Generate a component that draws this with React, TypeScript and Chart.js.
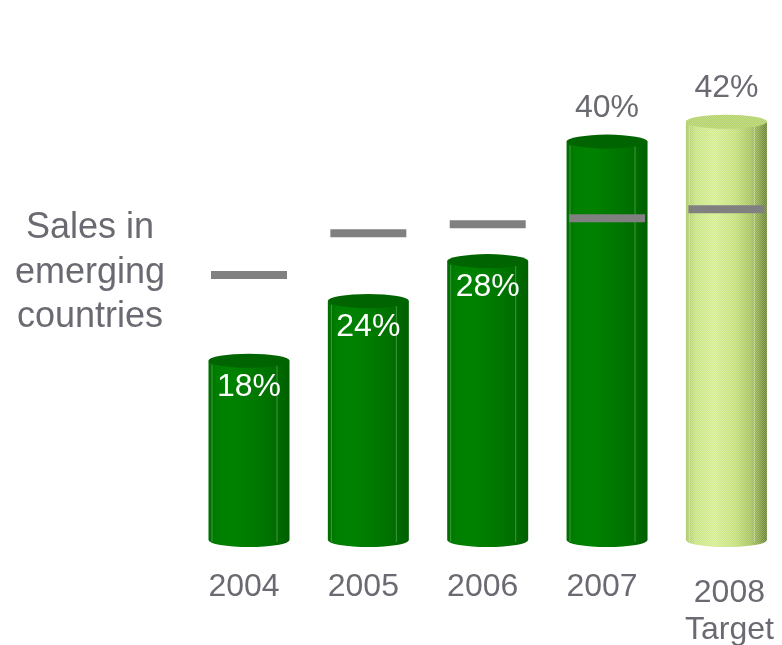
import React, { useEffect, useRef } from "react";
import { Chart, registerables } from "chart.js";

Chart.register(...registerables);

const categories = ["2004", "2005", "2006", "2007", "2008"];
const categoryLines = [["2004"], ["2005"], ["2006"], ["2007"], ["2008", "Target"]];
const salesShare = [18, 24, 28, 40, 42];
const markerValues = [25.9, 30.1, 31.0, 31.6, 32.5];
const valueLabels = ["18%", "24%", "28%", "40%", "42%"];
const labelInside = [true, true, true, false, false];
const isTarget = [false, false, false, false, true];
const sideTitle = ["Sales in", "emerging", "countries"];

const TEXT_GRAY = "#6a6a72";
const FONT = "Liberation Sans, Arial, sans-serif";
const BAR_DATASET = 1;

function makeChecker(ctx: CanvasRenderingContext2D) {
  const c = document.createElement("canvas");
  c.width = 2;
  c.height = 2;
  const g = c.getContext("2d")!;
  g.fillStyle = "rgba(255,255,255,0.22)";
  g.fillRect(0, 0, 1, 1);
  g.fillRect(1, 1, 1, 1);
  return ctx.createPattern(c, "repeat");
}

const cylinderPlugin = {
  id: "cylinders",
  beforeDatasetsDraw(chart: any) {
    const ctx: CanvasRenderingContext2D = chart.ctx;
    const meta = chart.getDatasetMeta(BAR_DATASET);
    meta.data.forEach((el: any, i: number) => {
      const { x, y, base, width } = el.getProps(["x", "y", "base", "width"], true);
      if (![x, y, base, width].every((v) => Number.isFinite(v))) return;
      const rx = width / 2;
      const ry = 7;
      const left = x - rx;
      const right = x + rx;
      const topC = y + ry;
      const botC = base + ry;
      const grad = ctx.createLinearGradient(left, 0, right, 0);
      if (isTarget[i]) {
        grad.addColorStop(0, "#a9c862");
        grad.addColorStop(0.12, "#c8e484");
        grad.addColorStop(0.35, "#d6ee90");
        grad.addColorStop(0.6, "#c6e07c");
        grad.addColorStop(0.8, "#a8c45e");
        grad.addColorStop(0.9, "#8aa648");
        grad.addColorStop(1, "#667f30");
      } else {
        grad.addColorStop(0, "#006c00");
        grad.addColorStop(0.1, "#007e00");
        grad.addColorStop(0.3, "#008200");
        grad.addColorStop(0.6, "#007800");
        grad.addColorStop(0.85, "#006c00");
        grad.addColorStop(1, "#005e00");
      }
      ctx.save();
      ctx.beginPath();
      ctx.moveTo(left, topC);
      ctx.lineTo(left, botC);
      ctx.ellipse(x, botC, rx, ry, 0, Math.PI, 0, true);
      ctx.lineTo(right, topC);
      ctx.closePath();
      ctx.fillStyle = grad;
      ctx.fill();
      if (isTarget[i]) {
        const pat = makeChecker(ctx);
        if (pat) {
          ctx.fillStyle = pat;
          ctx.fill();
        }
      }
      ctx.strokeStyle = isTarget[i] ? "rgba(255,255,255,0.35)" : "rgba(180,230,180,0.35)";
      ctx.lineWidth = 1;
      ctx.beginPath();
      ctx.moveTo(left + 3.5, topC + 4);
      ctx.lineTo(left + 3.5, botC + 2);
      ctx.moveTo(right - 12.5, topC + 4);
      ctx.lineTo(right - 12.5, botC + 2);
      ctx.stroke();
      ctx.beginPath();
      ctx.ellipse(x, topC, rx, ry, 0, 0, Math.PI * 2);
      ctx.fillStyle = isTarget[i] ? "#b4d26a" : "#006400";
      ctx.fill();
      if (isTarget[i]) {
        const pat = makeChecker(ctx);
        if (pat) {
          ctx.fillStyle = pat;
          ctx.fill();
        }
      }
      ctx.restore();
    });
  },
  afterDatasetsDraw(chart: any) {
    const ctx: CanvasRenderingContext2D = chart.ctx;
    const meta = chart.getDatasetMeta(BAR_DATASET);
    ctx.save();
    ctx.textAlign = "center";
    ctx.textBaseline = "alphabetic";
    ctx.font = `32px ${FONT}`;
    meta.data.forEach((el: any, i: number) => {
      const { x, y } = el.getProps(["x", "y"], true);
      if (labelInside[i]) {
        ctx.fillStyle = "#ffffff";
        ctx.fillText(valueLabels[i], x, y + 42);
      } else {
        ctx.fillStyle = TEXT_GRAY;
        ctx.fillText(valueLabels[i], x, y - 18);
      }
      ctx.fillStyle = TEXT_GRAY;
      const lines = categoryLines[i];
      const baseY = chart.chartArea.bottom + (lines.length > 1 ? 69 : 63);
      lines.forEach((ln, k) => {
        ctx.fillText(ln, x + (lines.length > 1 ? 3 : -5), baseY + k * 37);
      });
    });
    ctx.font = `36px ${FONT}`;
    ctx.fillStyle = TEXT_GRAY;
    sideTitle.forEach((ln, k) => {
      ctx.fillText(ln, 90, 238 + k * 44.5);
    });
    ctx.restore();
  },
};

export default function App() {
  const ref = useRef<HTMLCanvasElement>(null);
  useEffect(() => {
    if (!ref.current) return;
    const chart = new Chart(ref.current, {
      type: "bar",
      data: {
        labels: categories,
        datasets: [
          {
            type: "line",
            label: "Benchmark",
            data: markerValues,
            showLine: false,
            pointStyle: "line",
            pointRadius: 38,
            pointHoverRadius: 38,
            pointBorderWidth: 8,
            pointHoverBorderWidth: 8,
            pointBorderColor: "#808080",
            pointBackgroundColor: "#808080",
            clip: false,
            order: 0,
          } as any,
          {
            type: "bar",
            label: "Sales in emerging countries",
            data: salesShare,
            backgroundColor: "rgba(0,0,0,0)",
            borderWidth: 0,
            barThickness: 81,
            order: 1,
          },
        ],
      },
      options: {
        animation: false,
        responsive: true,
        maintainAspectRatio: false,
        events: [],
        layout: { autoPadding: false, padding: { left: 249, right: 55.6, top: 35, bottom: 112 } },
        plugins: { legend: { display: false }, tooltip: { enabled: false } },
        scales: {
          x: { type: "category", offset: false, display: false },
          y: { min: 0, max: 50, display: false },
        },
      },
      plugins: [cylinderPlugin],
    });
    return () => chart.destroy();
  }, []);
  return (
    <div style={{ position: "fixed", left: 0, top: 0, width: 782, height: 645, background: "#fff" }}>
      <canvas ref={ref} />
    </div>
  );
}
